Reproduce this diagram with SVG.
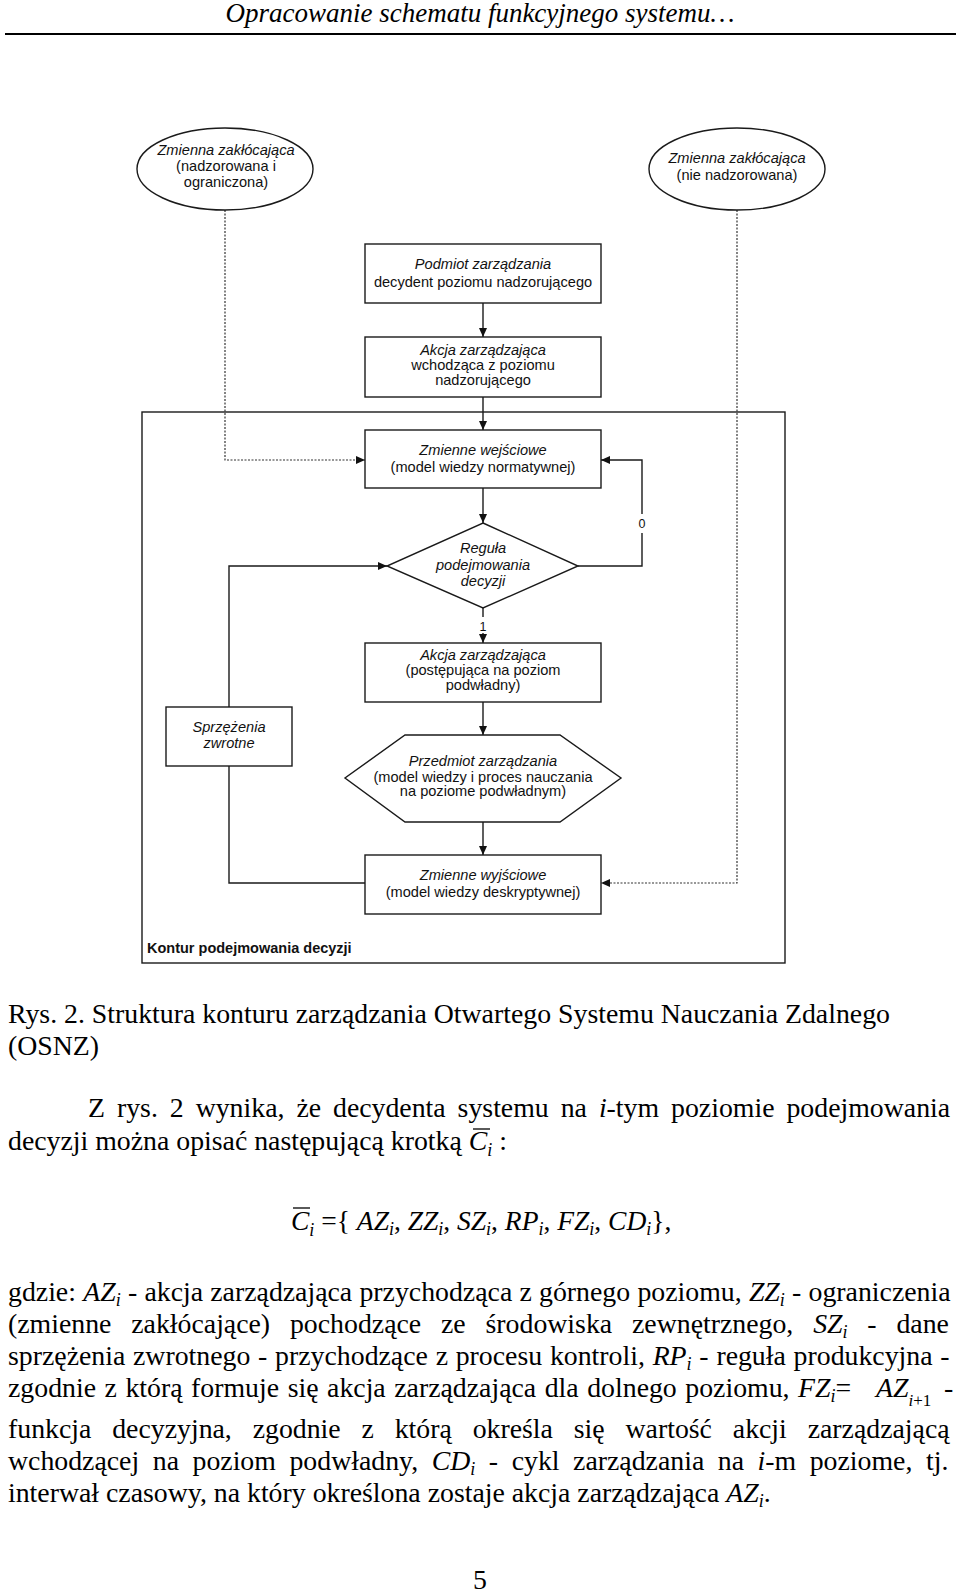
<svg xmlns="http://www.w3.org/2000/svg" width="960" height="1595" viewBox="0 0 960 1595">
<defs>
<marker id="arr" viewBox="0 0 10 10" refX="10" refY="5" markerWidth="9" markerHeight="8" orient="auto" markerUnits="userSpaceOnUse" preserveAspectRatio="none"><path d="M0,0 L10,5 L0,10 z" fill="#111"/></marker>
<style>
.d{font-family:"Liberation Sans",Arial,sans-serif;font-size:14.6px;fill:#111;text-anchor:middle}
.i{font-style:italic}
.k{font-family:"Liberation Sans",Arial,sans-serif;font-size:14.5px;font-weight:bold;fill:#111}
.lb{font-family:"Liberation Sans",Arial,sans-serif;font-size:12.5px;fill:#111;text-anchor:middle}
.shape{fill:#fff;stroke:#1a1a1a;stroke-width:1.4}
.con{fill:none;stroke:#1a1a1a;stroke-width:1.4}
.dot{fill:none;stroke:#333;stroke-width:1.2;stroke-dasharray:2 1.5}
.b{font-family:"Liberation Serif","Times New Roman",serif;font-size:27.8px;fill:#000}
.v{font-style:italic}
.s{font-size:18px;font-style:italic}
</style>
</defs>
<rect width="960" height="1595" fill="#fff"/>

<g id="header">
<text class="b v" x="480" y="22" text-anchor="middle" style="font-size:27px">Opracowanie schematu funkcyjnego systemu…</text>
<line x1="5" y1="34" x2="956" y2="34" stroke="#000" stroke-width="2"/>
</g>

<g id="kontur">
<rect x="142" y="412" width="643" height="551" fill="none" stroke="#1a1a1a" stroke-width="1.4"/>
<text class="k" x="147" y="953">Kontur podejmowania decyzji</text>
</g>

<g id="connectors">
<path class="con" d="M483,303 V337" marker-end="url(#arr)"/>
<path class="con" d="M483,397 V430" marker-end="url(#arr)"/>
<path class="con" d="M483,488 V523" marker-end="url(#arr)"/>
<path class="con" d="M483,608 V617"/>
<path class="con" d="M483,633 V643" marker-end="url(#arr)"/>
<path class="con" d="M483,702 V735" marker-end="url(#arr)"/>
<path class="con" d="M483,822 V855" marker-end="url(#arr)"/>
<path class="con" d="M578,566 H642 V533"/>
<path class="con" d="M642,514 V460 H601" marker-end="url(#arr)"/>
<path class="con" d="M229,707 V566 H387" marker-end="url(#arr)"/>
<path class="con" d="M365,883 H229 V766"/>
<path class="dot" d="M225,210 V460 H365" marker-end="url(#arr)"/>
<path class="dot" d="M737,210 V883 H601" marker-end="url(#arr)"/>
<text class="lb" x="642" y="528">0</text>
<text class="lb" x="483" y="631">1</text>
</g>

<g id="zaklocajaca-nadzorowana">
<ellipse class="shape" cx="225" cy="169" rx="88" ry="41"/>
<text class="d i" x="226" y="155">Zmienna zakłócająca</text>
<text class="d" x="226" y="171">(nadzorowana i</text>
<text class="d" x="226" y="187">ograniczona)</text>
</g>

<g id="zaklocajaca-nienadzorowana">
<ellipse class="shape" cx="737" cy="169" rx="88" ry="41"/>
<text class="d i" x="737" y="163">Zmienna zakłócająca</text>
<text class="d" x="737" y="180">(nie nadzorowana)</text>
</g>

<g id="podmiot">
<rect class="shape" x="365" y="244" width="236" height="59"/>
<text class="d i" x="483" y="269">Podmiot zarządzania</text>
<text class="d" x="483" y="287">decydent poziomu nadzorującego</text>
</g>

<g id="akcja-wchodzaca">
<rect class="shape" x="365" y="337" width="236" height="60"/>
<text class="d i" x="483" y="355">Akcja zarządzająca</text>
<text class="d" x="483" y="370">wchodząca z poziomu</text>
<text class="d" x="483" y="385">nadzorującego</text>
</g>

<g id="zmienne-wejsciowe">
<rect class="shape" x="365" y="430" width="236" height="58"/>
<text class="d i" x="483" y="455">Zmienne wejściowe</text>
<text class="d" x="483" y="472">(model wiedzy normatywnej)</text>
</g>

<g id="regula">
<polygon class="shape" points="483,523 578,566 483,608 387,566"/>
<text class="d i" x="483" y="553">Reguła</text>
<text class="d i" x="483" y="570">podejmowania</text>
<text class="d i" x="483" y="586">decyzji</text>
</g>

<g id="akcja-postepujaca">
<rect class="shape" x="365" y="643" width="236" height="59"/>
<text class="d i" x="483" y="660">Akcja zarządzająca</text>
<text class="d" x="483" y="675">(postępująca na poziom</text>
<text class="d" x="483" y="690">podwładny)</text>
</g>

<g id="sprzezenia">
<rect class="shape" x="166" y="707" width="126" height="59"/>
<text class="d i" x="229" y="732">Sprzężenia</text>
<text class="d i" x="229" y="748">zwrotne</text>
</g>

<g id="przedmiot">
<polygon class="shape" points="405,735 560,735 621,778 560,822 405,822 345,778"/>
<text class="d i" x="483" y="766">Przedmiot zarządzania</text>
<text class="d" x="483" y="782">(model wiedzy i proces nauczania</text>
<text class="d" x="483" y="796">na poziome podwładnym)</text>
</g>

<g id="zmienne-wyjsciowe">
<rect class="shape" x="365" y="855" width="236" height="59"/>
<text class="d i" x="483" y="880">Zmienne wyjściowe</text>
<text class="d" x="483" y="897">(model wiedzy deskryptywnej)</text>
</g>

<g id="body-text">
<text class="b" x="8" y="1023">Rys. 2. Struktura konturu zarządzania Otwartego Systemu Nauczania Zdalnego</text>
<text class="b" x="8" y="1055">(OSNZ)</text>
<text class="b" x="88" y="1117" style="word-spacing:5px">Z rys. 2 wynika, że decydenta systemu na <tspan class="v">i</tspan>-tym poziomie podejmowania</text>
<text class="b" x="8" y="1150">decyzji można opisać następującą krotką <tspan class="v">C</tspan><tspan class="s" dy="6">i</tspan><tspan dy="-6"> :</tspan></text>
<line x1="473" y1="1129" x2="490" y2="1129" stroke="#000" stroke-width="1.3"/>

<text class="b" x="291" y="1230" style="font-size:27.5px"><tspan class="v">C</tspan><tspan class="s" dy="6">i</tspan><tspan dy="-6"> ={ </tspan><tspan class="v">AZ</tspan><tspan class="s" dy="5">i</tspan><tspan dy="-5">, </tspan><tspan class="v">ZZ</tspan><tspan class="s" dy="5">i</tspan><tspan dy="-5">, </tspan><tspan class="v">SZ</tspan><tspan class="s" dy="5">i</tspan><tspan dy="-5">, </tspan><tspan class="v">RP</tspan><tspan class="s" dy="5">i</tspan><tspan dy="-5">, </tspan><tspan class="v">FZ</tspan><tspan class="s" dy="5">i</tspan><tspan dy="-5">, </tspan><tspan class="v">CD</tspan><tspan class="s" dy="5">i</tspan><tspan dy="-5">},</tspan></text>
<line x1="293" y1="1208" x2="310" y2="1208" stroke="#000" stroke-width="1.3"/>

<text class="b" x="8" y="1301" style="word-spacing:0.3px">gdzie: <tspan class="v">AZ</tspan><tspan class="s" dy="5">i</tspan><tspan dy="-5"> - akcja zarządzająca przychodząca z górnego poziomu, </tspan><tspan class="v">ZZ</tspan><tspan class="s" dy="5">i</tspan><tspan dy="-5"> - ograniczenia</tspan></text>
<text class="b" x="8" y="1333" style="word-spacing:12.9px">(zmienne zakłócające) pochodzące ze środowiska zewnętrznego, <tspan class="v">SZ</tspan><tspan class="s" dy="5">i</tspan><tspan dy="-5"> - dane</tspan></text>
<text class="b" x="8" y="1365" style="word-spacing:0.8px">sprzężenia zwrotnego - przychodzące z procesu kontroli, <tspan class="v">RP</tspan><tspan class="s" dy="5">i</tspan><tspan dy="-5"> - reguła produkcyjna -</tspan></text>
<text class="b" x="8" y="1397" style="word-spacing:1.6px">zgodnie z którą formuje się akcja zarządzająca dla dolnego poziomu, <tspan class="v">FZ</tspan><tspan class="s" dy="5">i</tspan><tspan dy="-5">=</tspan></text>
<text class="b" x="876" y="1397"><tspan class="v">AZ</tspan><tspan font-size="17" font-style="italic" dy="9">i</tspan><tspan font-size="17">+1</tspan></text>
<text class="b" x="944" y="1397">-</text>
<text class="b" x="8" y="1438" style="word-spacing:13.9px">funkcja decyzyjna, zgodnie z którą określa się wartość akcji zarządzającą</text>
<text class="b" x="8" y="1470" style="word-spacing:6.6px">wchodzącej na poziom podwładny, <tspan class="v">CD</tspan><tspan class="s" dy="5">i</tspan><tspan dy="-5"> - cykl zarządzania na </tspan><tspan class="v">i</tspan>-m poziome, tj.</text>
<text class="b" x="8" y="1502">interwał czasowy, na który określona zostaje akcja zarządzająca <tspan class="v">AZ</tspan><tspan class="s" dy="5">i</tspan><tspan dy="-5">.</tspan></text>
<text class="b" x="480" y="1589" text-anchor="middle">5</text>
</g>
</svg>
